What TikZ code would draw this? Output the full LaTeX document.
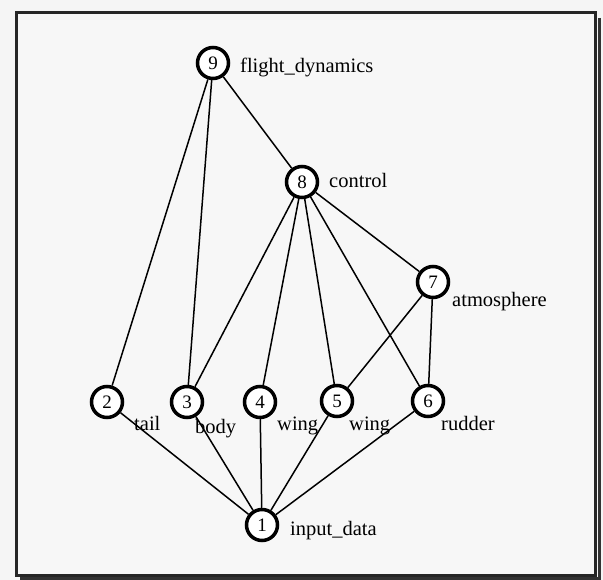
\documentclass[tikz,border=0pt]{standalone}
\usepackage{fontspec}
\setmainfont{Liberation Serif}
\begin{document}
\begin{tikzpicture}[x=1pt,y=-1pt,
  vnode/.style={circle,draw=black,line width=3.5pt,fill=white,minimum size=31pt,inner sep=0pt,font=\fontsize{19}{21}\selectfont},
  vlabel/.style={anchor=base west,inner sep=0pt,font=\fontsize{20.5}{22}\selectfont},
  edge/.style={line width=1.5pt,black}]
\useasboundingbox (0,0) rectangle (603,580);
\fill[white!96!black] (0,0) rectangle (603,580);
% frame with shadow
\draw[line width=3pt,black!80] (599,18) -- (599,578) -- (20,578);
\draw[line width=3pt,black!85,fill=white!97!black] (16,13) rectangle (595,575);
% nodes
\node[vnode] (n9) at (213,63) {9};
\node[vnode] (n8) at (302,182) {8};
\node[vnode] (n7) at (433,282) {7};
\node[vnode] (n2) at (107,402) {2};
\node[vnode] (n3) at (187,402) {3};
\node[vnode] (n4) at (260,402) {4};
\node[vnode] (n5) at (337,401) {5};
\node[vnode] (n6) at (428,401) {6};
\node[vnode] (n1) at (262,525) {1};
% edges
\draw[edge] (n9) -- (n2);
\draw[edge] (n9) -- (n3);
\draw[edge] (n9) -- (n8);
\draw[edge] (n8) -- (n3);
\draw[edge] (n8) -- (n4);
\draw[edge] (n8) -- (n5);
\draw[edge] (n8) -- (n6);
\draw[edge] (n8) -- (n7);
\draw[edge] (n7) -- (n5);
\draw[edge] (n7) -- (n6);
\draw[edge] (n1) -- (n2);
\draw[edge] (n1) -- (n3);
\draw[edge] (n1) -- (n4);
\draw[edge] (n1) -- (n5);
\draw[edge] (n1) -- (n6);
% labels
\node[vlabel] (l9) at (240,73) {flight\_dynamics};
\node[vlabel] (l8) at (329,188) {control};
\node[vlabel] (l7) at (452,307) {atmosphere};
\node[vlabel] (l2) at (134,430) {tail};
\node[vlabel] (l3) at (195,433) {body};
\node[vlabel] (l4) at (277,430) {wing};
\node[vlabel] (l5) at (349,430) {wing};
\node[vlabel] (l6) at (441,430) {rudder};
\node[vlabel] (l1) at (290,535) {input\_data};
\end{tikzpicture}
\end{document}
